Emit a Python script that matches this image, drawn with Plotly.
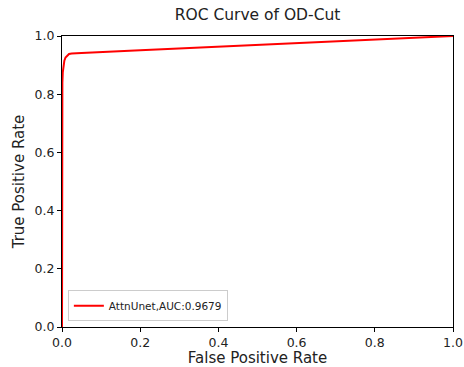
import plotly.graph_objects as go

fpr = [0.0, 0.0, 0.0, 0.0005, 0.001, 0.002, 0.004, 0.006, 0.009, 0.013, 0.018, 0.025, 0.05, 0.2, 0.4, 0.6, 0.8, 0.95, 1.0]
tpr = [0.0, 0.3, 0.6, 0.78, 0.84, 0.875, 0.9, 0.915, 0.926, 0.933, 0.938, 0.94, 0.942, 0.951, 0.963, 0.975, 0.987, 0.996, 1.0]
label = "AttnUnet,AUC:0.9679"
ticks = [0.0, 0.2, 0.4, 0.6, 0.8, 1.0]
tick_text = ["0.0", "0.2", "0.4", "0.6", "0.8", "1.0"]

fig = go.Figure()
fig.add_trace(go.Scatter(x=fpr, y=tpr, mode="lines", name=label,
                         line=dict(color="red", width=2)))

axis_common = dict(
    range=[0, 1], tickvals=ticks, ticktext=tick_text, automargin=False,
    showgrid=False, zeroline=False, showline=True, linecolor="black", linewidth=1,
    mirror=True, ticks="outside", ticklen=4, tickcolor="black",
    tickfont=dict(size=12.5, color="#222"), title_font=dict(size=15, color="#222"),
)

fig.update_layout(
    width=464, height=367,
    margin=dict(l=62, r=11, t=36, b=40, autoexpand=False),
    paper_bgcolor="white", plot_bgcolor="white",
    font=dict(family="DejaVu Sans", color="#222"),
    title=dict(text="ROC Curve of OD-Cut", x=0.555, xanchor="center", y=0.975, yanchor="top",
               font=dict(size=15.5, color="#222")),
    xaxis=dict(title=dict(text="False Positive Rate", standoff=4), **axis_common),
    yaxis=dict(title=dict(text="True Positive Rate", standoff=6), **axis_common),
    showlegend=True,
    legend=dict(x=0.015, y=0.02, xanchor="left", yanchor="bottom",
                bgcolor="white", bordercolor="#ccc", borderwidth=1,
                font=dict(size=10.5, color="#222")),
)

fig.write_html("out.html", config={"displayModeBar": False},
               post_script="document.body.style.margin='0';document.body.style.padding='0';")
